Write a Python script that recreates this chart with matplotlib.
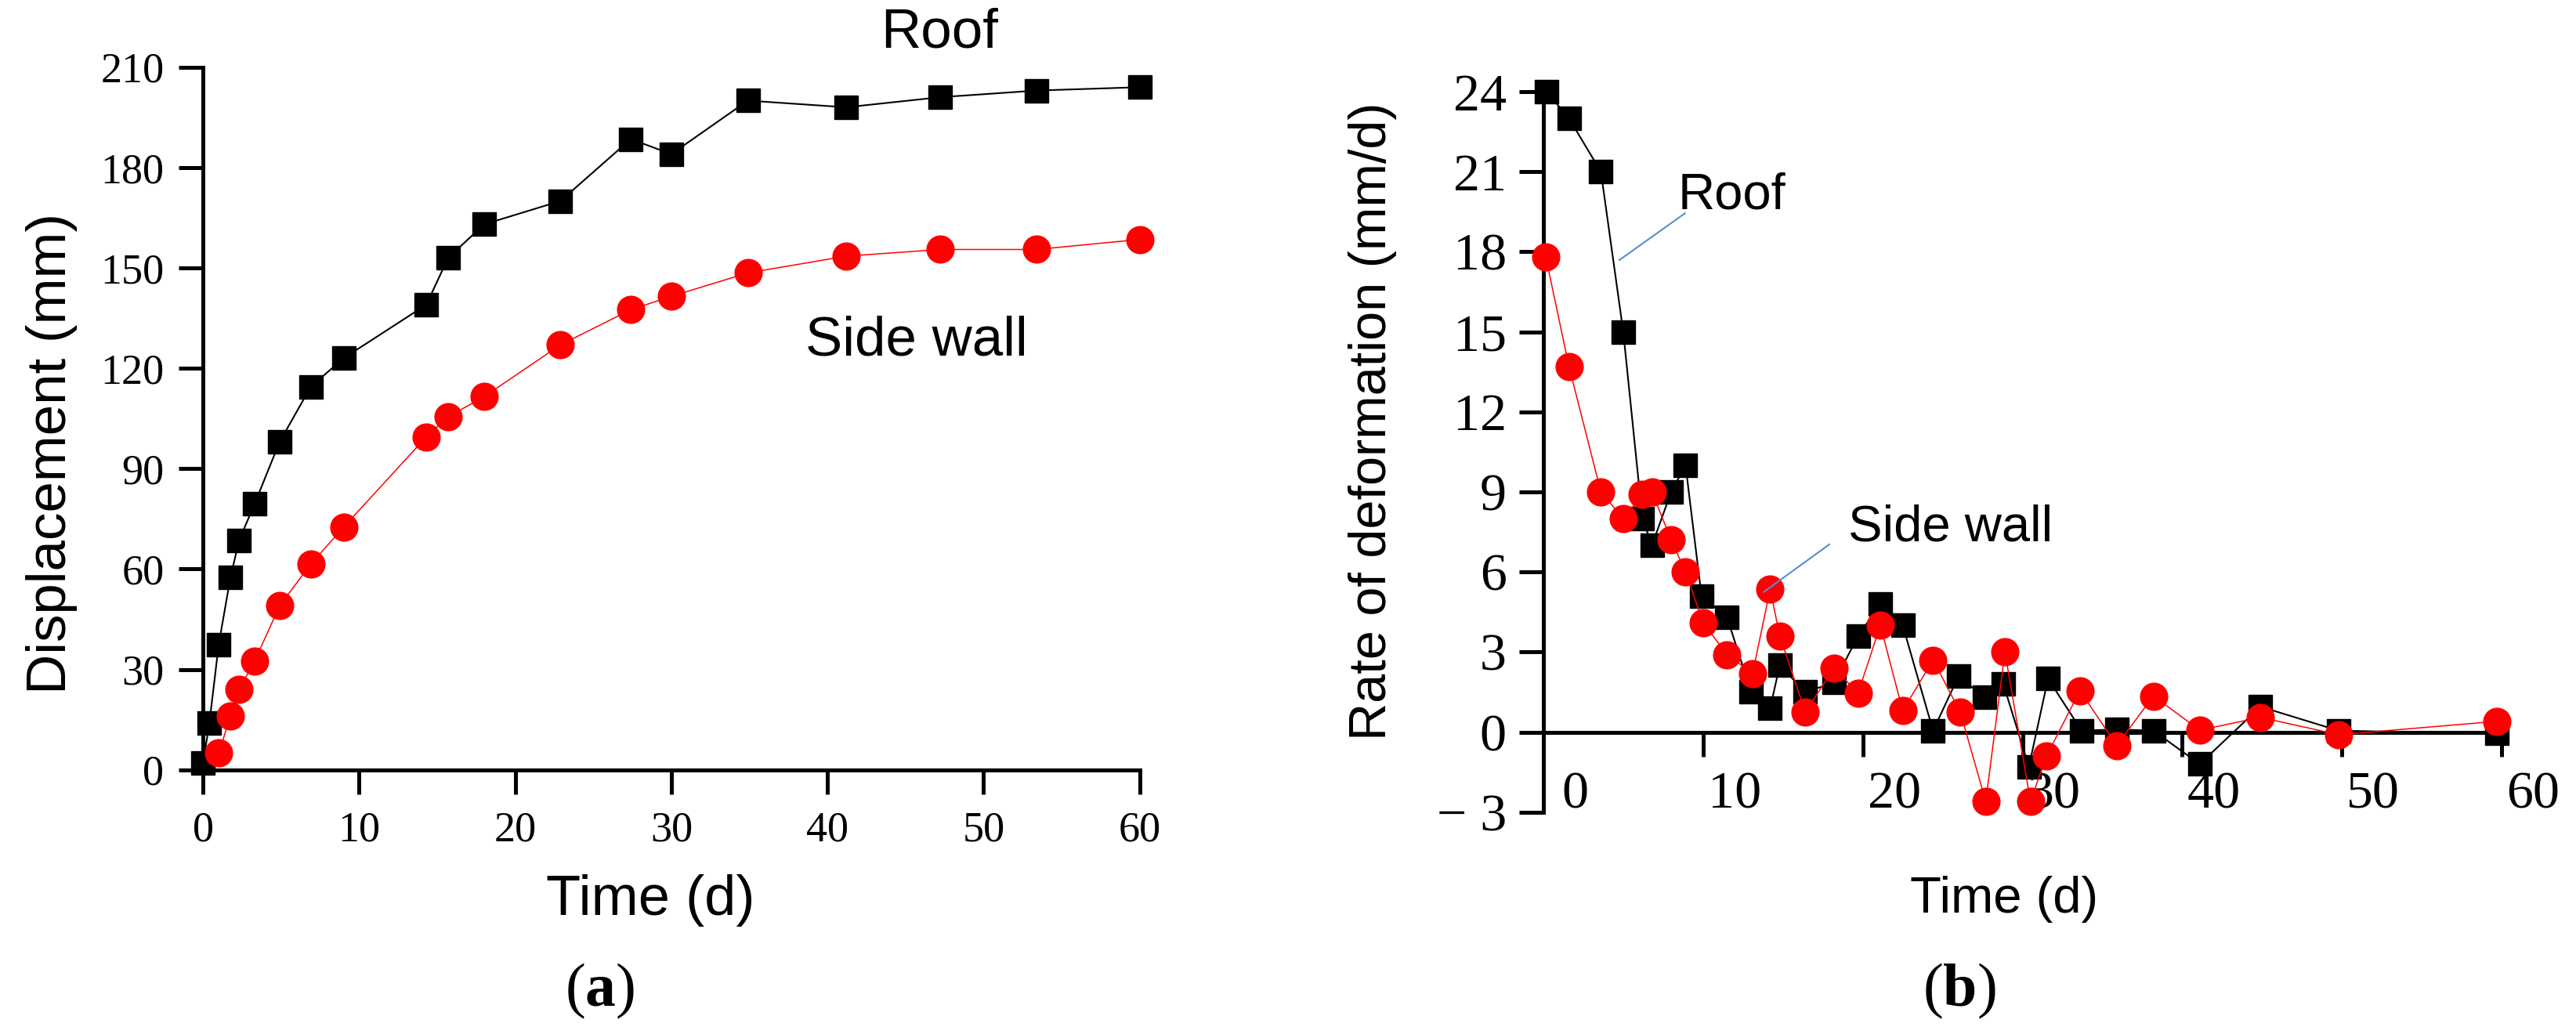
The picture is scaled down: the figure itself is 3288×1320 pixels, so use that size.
import matplotlib
matplotlib.use("Agg")
import matplotlib.pyplot as plt
from matplotlib.transforms import ScaledTranslation

plt.rcParams['mathtext.fontset'] = 'custom'
plt.rcParams['mathtext.rm'] = 'Liberation Serif'
plt.rcParams['mathtext.bf'] = 'Liberation Serif:bold'

# ---------------- data ----------------
# (a) displacement
roof_a_t = [0, 0.4, 1.0, 1.75, 2.3, 3.3, 4.9, 6.9, 9.0, 14.3, 15.7, 18.0, 22.9,
            27.4, 30.0, 34.9, 41.2, 47.2, 53.4, 60]
roof_a = [2, 14, 37.5, 57.5, 68.5, 79.5, 98, 114.5, 123, 139, 153, 163, 170,
          188.5, 184, 200, 198, 201, 203, 204]
wall_a_t = [1.0, 1.75, 2.3, 3.3, 4.9, 6.9, 9.0, 14.3, 15.7, 18.0, 22.9, 27.4,
            30.0, 34.9, 41.2, 47.2, 53.4, 60]
wall_a = [5, 16, 24, 32.5, 49, 61.5, 72.5, 99.5, 105.5, 111.5, 127, 137.5,
          141.5, 148.5, 153.5, 155.5, 155.5, 158.5]

# (b) rate of deformation
roof_b_t = [0.2, 1.6, 3.6, 5.0, 6.2, 6.8, 8.0, 8.9, 9.9, 11.5, 13.0, 14.2, 14.8,
            16.4, 18.2, 19.7, 21.1, 22.5, 24.4, 26.0, 27.6, 28.8, 30.4, 31.6,
            33.7, 35.9, 38.2, 41.1, 44.9, 49.8, 59.7]
roof_b = [24, 23, 21, 15, 8, 7, 9, 10, 5.1, 4.3, 1.5, 0.9, 2.5, 1.5, 1.85, 3.6,
          4.8, 4.0, 0.05, 2.1, 1.3, 1.8, -1.3, 2.0, 0.05, 0.1, 0.05, -1.2, 0.95,
          0.05, -0.05]
wall_b_t = [0.15, 1.6, 3.6, 5.0, 6.2, 6.8, 8.0, 8.9, 10.0, 11.5, 13.1, 14.2, 14.8,
            16.4, 18.2, 19.7, 21.1, 22.5, 24.4, 26.1, 27.7, 28.9, 30.5, 31.5,
            33.6, 35.9, 38.2, 41.1, 44.9, 49.8, 59.7]
wall_b = [17.8, 13.7, 9.0, 8.0, 8.9, 9.0, 7.2, 6.0, 4.1, 2.9, 2.2, 5.35, 3.6,
          0.75, 2.4, 1.45, 4.0, 0.8, 2.7, 0.75, -2.6, 3.0, -2.6, -0.9, 1.55,
          -0.5, 1.35, 0.07, 0.55, -0.1, 0.4]

xticks = [0, 10, 20, 30, 40, 50, 60]
yticks_a = [0, 30, 60, 90, 120, 150, 180, 210]
yticks_b = [-3, 0, 3, 6, 9, 12, 15, 18, 21, 24]
yticklabels_b = ["\u2212 3", "0", "3", "6", "9", "12", "15", "18", "21", "24"]

SERIF = "Liberation Serif"
SANS = "Liberation Sans"

fig = plt.figure(figsize=(32.88, 13.2), dpi=100)

ax1 = fig.add_axes([0.07886, 0.25553, 0.36351, 0.67955])
ax2 = fig.add_axes([0.59915, 0.21462, 0.37196, 0.69674])

sq_ms = 21.5
ci_ms = 25

def style(ax, fs):
    for s in ['top', 'right']:
        ax.spines[s].set_visible(False)
    for s in ['left', 'bottom']:
        ax.spines[s].set_linewidth(3.6)
    ax.tick_params(direction='out', length=22, width=3.6, labelsize=fs)
    for lab in ax.get_xticklabels() + ax.get_yticklabels():
        lab.set_fontfamily(SERIF)

# ---------- (a) ----------
ax1.plot(roof_a_t, roof_a, color='black', lw=1.5, marker='s', ms=sq_ms,
         mfc='black', mec='black', clip_on=False, zorder=5)
ax1.plot(wall_a_t, wall_a, color='red', lw=1.1, marker='o', ms=ci_ms,
         mfc='red', mec='red', clip_on=False, zorder=6)
ax1.set_xlim(0, 60)
ax1.set_ylim(0, 210)
ax1.set_xticks(xticks)
ax1.set_yticks(yticks_a)
style(ax1, 39)
ax1.tick_params(axis='x', pad=16)
ax1.tick_params(axis='y', pad=14)
ax1.set_xlabel("Time (d)", fontsize=52, family=SANS)
ax1.xaxis.set_label_coords(0.4775, -0.1865)
ax1.xaxis.label.set_va('center')
ax1.set_ylabel("Displacement (mm)", fontsize=51, family=SANS)
ax1.yaxis.set_label_coords(-0.1617, 0.45)
ax1.yaxis.label.set_va('center')
ax1.text(47.2, 220, "Roof", fontsize=51, family=SANS, ha='center', va='center',
         clip_on=False)
ax1.text(45.7, 128, "Side wall", fontsize=51, family=SANS, ha='center',
         va='center', clip_on=False)

# ---------- (b) ----------
ax2.plot(roof_b_t, roof_b, color='black', lw=1.5, marker='s', ms=sq_ms,
         mfc='black', mec='black', clip_on=False, zorder=5)
ax2.plot(wall_b_t, wall_b, color='red', lw=1.1, marker='o', ms=ci_ms,
         mfc='red', mec='red', clip_on=False, zorder=6)
ax2.set_xlim(0, 60)
ax2.set_ylim(-3, 24)
ax2.spines['bottom'].set_position(('data', 0))
ax2.set_xticks(xticks)
ax2.set_yticks(yticks_b)
ax2.set_yticklabels(yticklabels_b)
style(ax2, 49)
ax2.tick_params(axis='x', pad=14)
ax2.tick_params(axis='y', pad=12)
offset = ScaledTranslation(0.40, 0, fig.dpi_scale_trans)
for lab in ax2.get_xticklabels():
    lab.set_transform(lab.get_transform() + offset)
ax2.set_xlabel("Time (d)", fontsize=47, family=SANS)
ax2.xaxis.set_label_coords(0.481, -0.121)
ax2.xaxis.label.set_va('center')
ax2.set_ylabel("Rate of deformation (mm/d)", fontsize=48, family=SANS)
ax2.yaxis.set_label_coords(-0.178, 0.542)
ax2.yaxis.label.set_va('center')

lead = '#5b8bd0'
ax2.plot([8.86, 4.76], [19.44, 17.69], color=lead, lw=1.5, zorder=7)
ax2.plot([17.9, 13.8], [7.03, 5.25], color=lead, lw=1.5, zorder=7)
ax2.text(11.8, 20.1, "Roof", fontsize=47, family=SANS, ha='center',
         va='center')
ax2.text(25.5, 7.65, "Side wall", fontsize=47, family=SANS, ha='center',
         va='center')

# panel labels
fig.text(0.2330, 0.0417, r"($\mathbf{a}$)", fontsize=56, family=SERIF,
         ha='center', va='center')
fig.text(0.7607, 0.0417, r"($\mathbf{b}$)", fontsize=56, family=SERIF,
         ha='center', va='center')

fig.savefig("out.png", dpi=100)
